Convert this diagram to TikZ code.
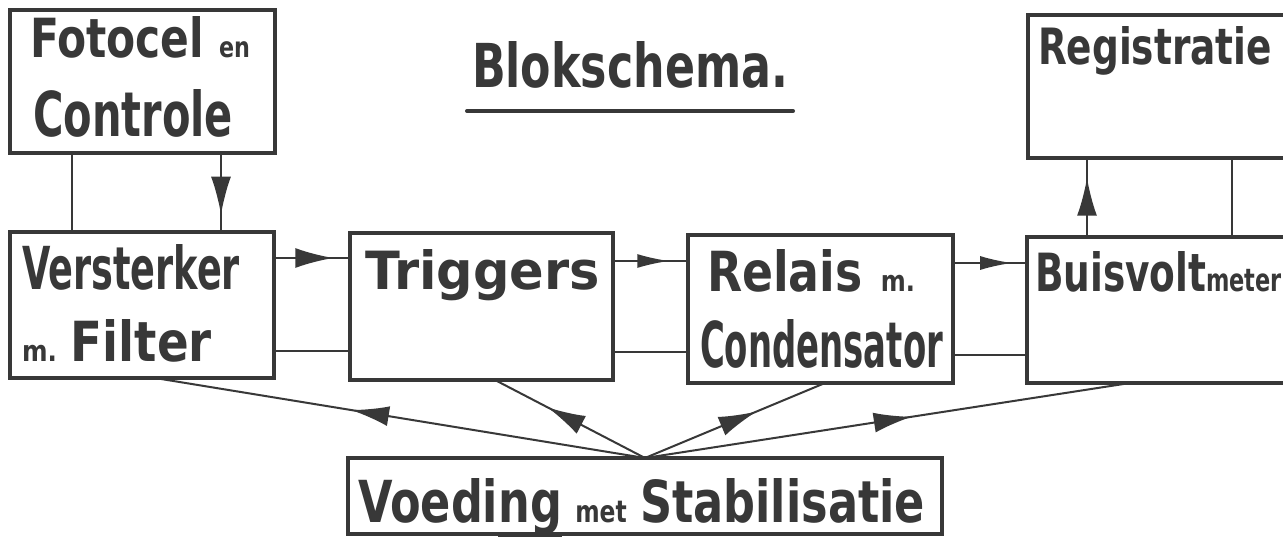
\documentclass[tikz,border=0pt]{standalone}
\usepackage{graphicx}
\usepackage{fontspec}
\setmainfont{DejaVu Sans}
\usetikzlibrary{arrows.meta,decorations.markings}
\definecolor{ink}{HTML}{383838}
\newcommand{\bigf}{\fontsize{40}{40}\selectfont\bfseries}
\newcommand{\smf}{\fontsize{21}{21}\selectfont}
\newcommand{\fitt}[3]{\resizebox{#1pt}{#2pt}{\bigf #3}}
\begin{document}
\begin{tikzpicture}[x=1pt,y=-1pt,
  box/.style={draw=ink, line width=4pt, rectangle, inner sep=0pt, outer sep=0pt, anchor=north west},
  lbl/.style={inner sep=0pt, outer sep=0pt, anchor=base west, text=ink},
  conn/.style={color=ink, line width=2pt},
  marr/.style={postaction={decorate}, decoration={markings, mark=at position #1 with {\arrow{Latex[length=38pt,width=20pt]}}}},
  marrs/.style={postaction={decorate}, decoration={markings, mark=at position #1 with {\arrow{Latex[length=32pt,width=14pt]}}}}
]
\clip (0,0) rectangle (1283,537);
\fill[white] (0,0) rectangle (1283,537);

% boxes
\node[box, minimum width=265pt, minimum height=143pt] (foto) at (10,10) {};
\node[box, minimum width=300pt, minimum height=143pt] (reg) at (1028,15) {};
\node[box, minimum width=264pt, minimum height=146pt] (verst) at (10,232) {};
\node[box, minimum width=263pt, minimum height=147pt] (trig) at (350,233) {};
\node[box, minimum width=265pt, minimum height=148pt] (relais) at (688,235) {};
\node[box, minimum width=300pt, minimum height=146pt] (buis) at (1027,237) {};
\node[box, minimum width=594pt, minimum height=76pt] (voed) at (348,458) {};

% labels
\node[lbl] (tfoto) at (30,58) {\fitt{220}{41}{Fotocel\hspace{0.35em}{\smf en}}};
\node[lbl] (tcontr) at (33,137) {\fitt{200}{47}{Controle}};
\node[lbl] (title) at (472,88) {\fitt{316}{46}{Blokschema.}};
\node[lbl] (treg) at (1038,65) {\fitt{234}{38}{Registratie}};
\node[lbl] (tverst) at (22,290) {\fitt{218}{45}{Versterker}};
\node[lbl] (tfilt) at (22,362) {\fitt{190}{42}{{\smf m.}\hspace{0.3em}Filter}};
\node[lbl] (ttrig) at (365,290) {\fitt{235}{40}{Triggers}};
\node[lbl] (trel) at (707,292) {\fitt{208}{42}{Relais\hspace{0.4em}{\smf m.}}};
\node[lbl] (tcond) at (700,368) {\fitt{243}{48}{Condensator}};
\node[lbl] (tbuis) at (1035,292) {\fitt{247}{40}{Buisvolt{\fontsize{24}{24}\selectfont meter}}};
\node[lbl] (tvoed) at (358,522) {\fitt{567}{44}{Voedi\underline{ng}\hspace{0.3em}{\smf met}\hspace{0.3em}Stabilisatie}};

% title underline
\draw[ink, line width=4pt, line cap=round] ([xshift=-5pt,yshift=-23pt]title.base west) -- ([xshift=5pt,yshift=-23pt]title.base east);

% vertical connectors
\draw[conn] (foto.south -| 72,0) -- (verst.north -| 72,0);
\draw[conn, marr=0.78] (foto.south -| 221,0) -- (verst.north -| 221,0);
\draw[conn, marr=0.75] (buis.north -| 1087,0) -- (reg.south -| 1087,0);
\draw[conn] (buis.north -| 1232,0) -- (reg.south -| 1232,0);

% horizontal connectors
\draw[conn, marr=0.78] (verst.east |- 0,258) -- (trig.west |- 0,258);
\draw[conn] (verst.east |- 0,351) -- (trig.west |- 0,351);
\draw[conn, marrs=0.75] (trig.east |- 0,261) -- (relais.west |- 0,261);
\draw[conn] (trig.east |- 0,352) -- (relais.west |- 0,352);
\draw[conn, marrs=0.8] (relais.east |- 0,263) -- (buis.west |- 0,263);
\draw[conn] (relais.east |- 0,355) -- (buis.west |- 0,355);

% supply lines
\draw[conn, marr=0.6] (voed.north) -- (verst.south -| 155,0);
\draw[conn, marr=0.65] (voed.north) -- (trig.south -| 495,0);
\draw[conn, marr=0.62] (voed.north) -- (relais.south -| 825,0);
\draw[conn, marr=0.55] (voed.north) -- (buis.south -| 1130,0);
\end{tikzpicture}
\end{document}
